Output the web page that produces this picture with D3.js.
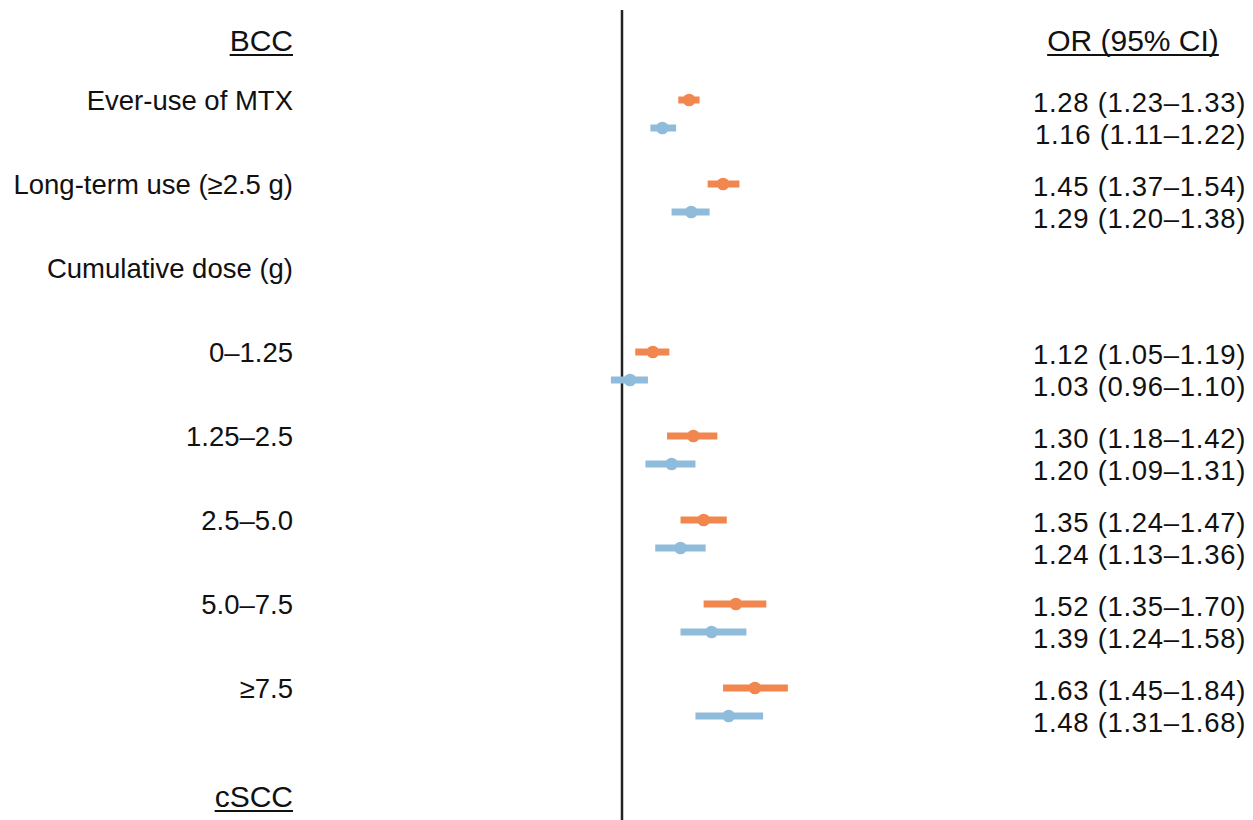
<!DOCTYPE html>
<html>
<head>
<meta charset="utf-8">
<script src="https://cdn.jsdelivr.net/npm/d3@7"></script>
<style>
  body { margin: 0; background: #fff; }
  svg text { font-family: "Liberation Sans", Arial, sans-serif; fill: #111; }
</style>
</head>
<body>
<svg id="chart"></svg>
<script>
const width = 1253;
const height = 820;

// row labels (one per group) and the two series per group
const labels = ['Ever-use of MTX', 'Long-term use (\u22652.5 g)', 'Cumulative dose (g)',
  '0\u20131.25', '1.25\u20132.5', '2.5\u20135.0', '5.0\u20137.5', '\u22657.5'];
const orOrange = [1.28, 1.45, null, 1.12, 1.30, 1.35, 1.52, 1.63];
const loOrange = [1.23, 1.37, null, 1.05, 1.18, 1.24, 1.35, 1.45];
const hiOrange = [1.33, 1.54, null, 1.19, 1.42, 1.47, 1.70, 1.84];
const orBlue = [1.16, 1.29, null, 1.03, 1.20, 1.24, 1.39, 1.48];
const loBlue = [1.11, 1.20, null, 0.96, 1.09, 1.13, 1.24, 1.31];
const hiBlue = [1.22, 1.38, null, 1.10, 1.31, 1.36, 1.58, 1.68];
const headers = [{ text: 'BCC', row: -0.714 }, { text: 'cSCC', row: 8.286 }];

const colors = { orange: '#F2864F', blue: '#8FBCDA' };
const bodySize = '27.5px';
const headSize = '30px';

const svg = d3.select('#chart').attr('width', width).attr('height', height);

// log scale: OR = 1 sits on the reference line
const x = d3.scaleLog().domain([1, 2]).range([622, 622 + 272 * Math.LN2]);
const y = d3.scaleLinear().domain([0, 1]).range([100, 184]);
const sub = 1 / 3; // offset of the second series inside a group

const fmt = d3.format('.2f');

// reference line
svg.append('line')
  .attr('x1', x(1)).attr('x2', x(1))
  .attr('y1', 10).attr('y2', height)
  .attr('stroke', '#222')
  .attr('stroke-width', 2.5);

// left labels
svg.selectAll('.row-label')
  .data(labels)
  .enter()
  .append('text')
  .attr('class', 'row-label')
  .attr('x', 293)
  .attr('y', (d, i) => y(i))
  .attr('dy', '0.35em')
  .attr('text-anchor', 'end')
  .style('font-size', bodySize)
  .text(d => d);

function underline(t, yy) {
  const bb = t.node().getBBox();
  svg.append('line')
    .attr('x1', bb.x).attr('x2', bb.x + bb.width)
    .attr('y1', yy + 15).attr('y2', yy + 15)
    .attr('stroke', '#111').attr('stroke-width', 1.8);
}

// section headers, underlined
headers.forEach(h => {
  const t = svg.append('text')
    .attr('x', 293)
    .attr('y', y(h.row))
    .attr('dy', '0.35em')
    .attr('text-anchor', 'end')
    .style('font-size', headSize)
    .text(h.text);
  underline(t, y(h.row));
});

// right column header
const orHead = svg.append('text')
  .attr('x', 1133)
  .attr('y', y(-0.714))
  .attr('dy', '0.35em')
  .attr('text-anchor', 'middle')
  .style('font-size', headSize)
  .text('OR (95% CI)');
underline(orHead, y(-0.714));

const series = [
  { key: 'orange', or: orOrange, lo: loOrange, hi: hiOrange, off: 0, textOff: 2 },
  { key: 'blue', or: orBlue, lo: loBlue, hi: hiBlue, off: sub, textOff: 6 }
];

series.forEach(s => {
  const rows = s.or.map((v, i) => ({ i, or: v, lo: s.lo[i], hi: s.hi[i] }))
    .filter(d => d.or !== null);
  const g = svg.append('g').attr('class', 'series-' + s.key);

  g.selectAll('.ci')
    .data(rows)
    .enter()
    .append('line')
    .attr('class', 'ci')
    .attr('x1', d => x(d.lo))
    .attr('x2', d => x(d.hi))
    .attr('y1', d => y(d.i + s.off))
    .attr('y2', d => y(d.i + s.off))
    .attr('stroke', colors[s.key])
    .attr('stroke-width', 7);

  g.selectAll('.dot')
    .data(rows)
    .enter()
    .append('circle')
    .attr('class', 'dot')
    .attr('cx', d => x(d.or))
    .attr('cy', d => y(d.i + s.off))
    .attr('r', 6.3)
    .attr('fill', colors[s.key]);

  g.selectAll('.val')
    .data(rows)
    .enter()
    .append('text')
    .attr('class', 'val')
    .attr('x', 1246)
    .attr('y', d => y(d.i + s.off) + s.textOff)
    .attr('dy', '0.35em')
    .attr('text-anchor', 'end')
    .style('font-size', bodySize)
    .style('letter-spacing', '0.7px')
    .text(d => `${fmt(d.or)} (${fmt(d.lo)}\u2013${fmt(d.hi)})`);
});
</script>
</body>
</html>
